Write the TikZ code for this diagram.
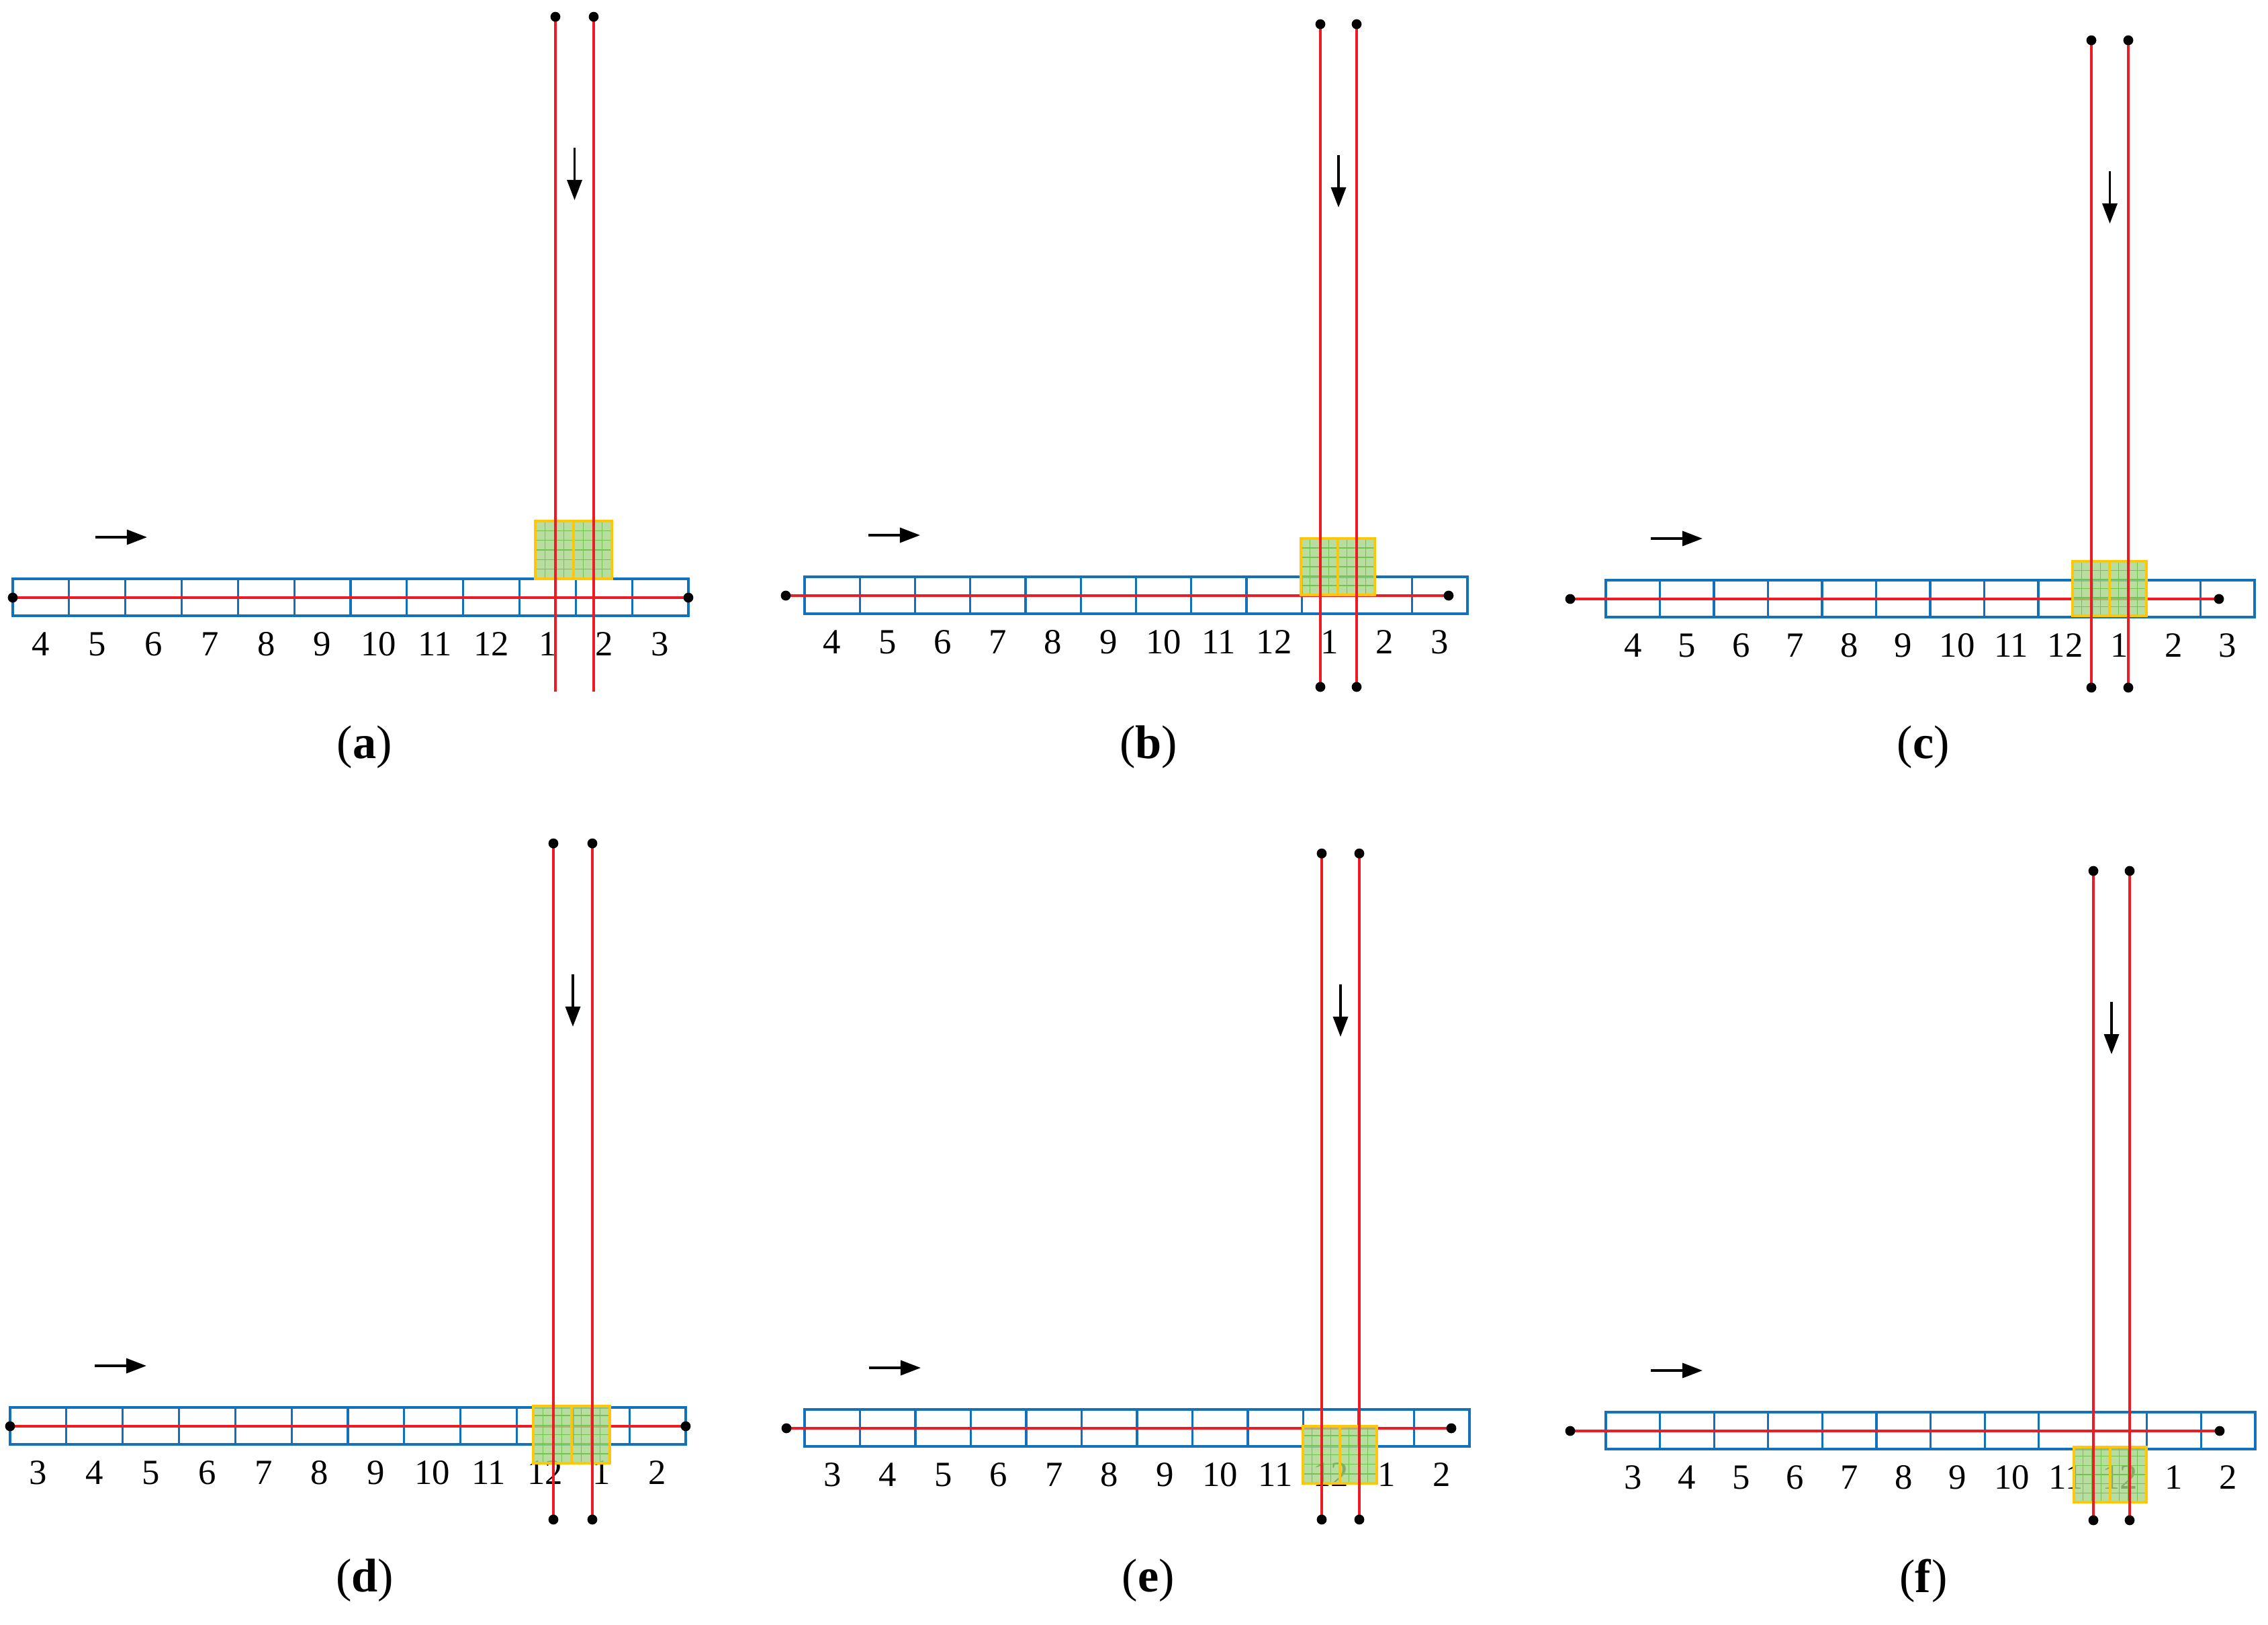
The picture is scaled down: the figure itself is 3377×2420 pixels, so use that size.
\documentclass[tikz,border=0pt]{standalone}
\usepackage{fontspec}
\setmainfont{Liberation Serif}
\usetikzlibrary{arrows.meta}
\definecolor{stripblue}{RGB}{18,113,187}
\definecolor{railred}{RGB}{237,28,36}
\definecolor{boxyellow}{RGB}{255,198,10}
\definecolor{boxgreen}{RGB}{165,212,135}
\definecolor{gridgreen}{RGB}{115,195,80}

\begin{document}
\begin{tikzpicture}[x=0.01cm, y=-0.01cm, every node/.style={font=\fontsize{15}{17}\selectfont},
	cellbox/.style={draw=stripblue, line width=0.9pt},
	rail/.style={draw=railred, line width=1pt},
	busfill/.style={fill=boxgreen, fill opacity=0.8},
	busgrid/.style={draw=gridgreen, line width=0.4pt},
	busedge/.style={draw=boxyellow, line width=1pt},
	motion/.style={-{Triangle[length=0.3cm,width=0.22cm]}, line width=1pt},
	caption/.style={font=\fontsize{20}{24}\selectfont}]
	\useasboundingbox (0,0) rectangle (3377,2420);
	% panel, strip left/right/top, rail shift, cross rails, top/bottom ends, end dot, boxes, arrow, first label, caption
	\foreach \px/\xl/\xr/\yt/\off/\va/\vb/\vt/\ve/\bd/\bx/\bw/\bt/\bh/\ax/\first/\cx/\cy in {
		a/19/1025/862/0/827/884/25/1030/0pt/797/57/776/86/142/4/543/1113,
		b/1198/2185/859/28/1966/2020/36/1023/2.1pt/1937/55/802/84/1293/4/1710/1113,
		c/2391/3357/864/53/3114/3169/60/1024/2.1pt/3086/55/836/81/2458/4/2864/1113,
		d/15/1021/2096/0/824/882/1256/2263/2.1pt/794/57/2094/85/141/3/543/2354,
		e/1198/2188/2099/27/1968/2024/1271/2263/2.1pt/1940/55/2124/85/1294/3/1710/2354,
		f/2391/3358/2103/53/3117/3171/1297/2264/2.1pt/3088/54/2155/82/2458/3/2864/2354} {
		\foreach \i in {0,...,11} {
			\draw[cellbox] ({\xl+\i*(\xr-\xl)/12},\yt) rectangle ({\xl+(\i+1)*(\xr-\xl)/12},\yt+55);
			\pgfmathtruncatemacro\num{mod(\first+\i-1,12)+1}
			\node (n\px\i) at ({\xl+(\i+0.5)*(\xr-\xl)/12},\yt+97) {\num};
		}
		\coordinate (ra\px) at (\xl-\off,\yt+28);
		\coordinate (rb\px) at (\xr-\off,\yt+28);
		\draw[rail] (ra\px) -- (rb\px);
		% the two buses
		\path[busfill] (\bx,\bt) rectangle ++({2*\bw},\bh);
		\foreach \g in {1,...,7} \draw[busgrid] ({\bx+\g*\bw/4},\bt) -- ++(0,\bh);
		\foreach \g in {1,...,5} \draw[busgrid] (\bx,{\bt+\g*\bh/6}) -- ++({2*\bw},0);
		\draw[busedge] (\bx,\bt) rectangle ++(\bw,\bh);
		\draw[busedge] (\bx+\bw,\bt) rectangle ++(\bw,\bh);
		\coordinate (ta\px) at (\va,\vt);
		\coordinate (tb\px) at (\vb,\vt);
		\coordinate (ua\px) at (\va,\ve);
		\coordinate (ub\px) at (\vb,\ve);
		\draw[rail] (ta\px) -- (ua\px);
		\draw[rail] (tb\px) -- (ub\px);
		\foreach \q in {ra,rb,ta,tb} \fill (\q\px) circle (2.1pt);
		\foreach \q in {ua,ub} \fill (\q\px) circle (\bd);
		\draw[motion] (\ax,\yt-62) -- ++(77,0);
		\draw[motion] ({(\va+\vb)/2},\vt+195) -- ++(0,78);
		\node[caption] (cap\px) at (\cx,\cy) {(\textbf{\px})};
	}
\end{tikzpicture}
\end{document}
